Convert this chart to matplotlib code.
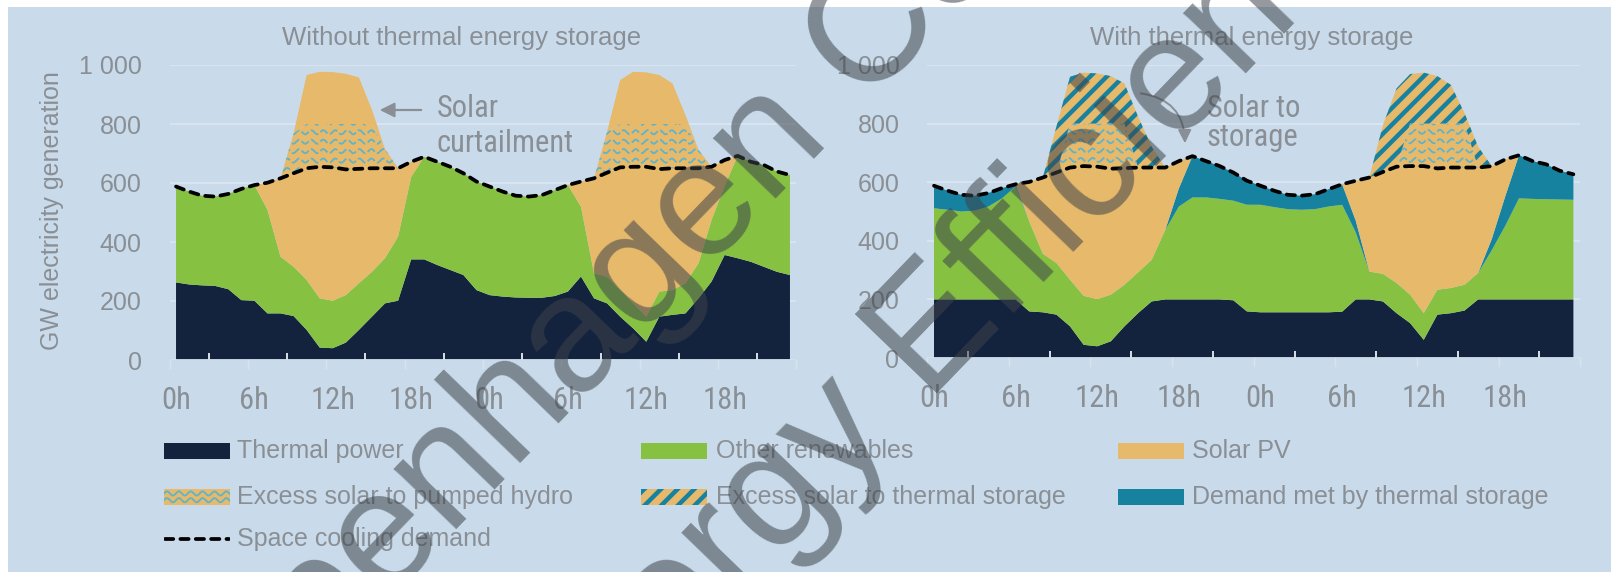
import numpy as np
import matplotlib
matplotlib.use('Agg')
import matplotlib.pyplot as plt
from matplotlib import font_manager
from matplotlib.patches import Rectangle, FancyArrowPatch
from matplotlib.lines import Line2D
import matplotlib.transforms as mtransforms

# ---------------- data ----------------
hours = list(range(48))
hour_tick_pos = [0, 6, 12, 18, 24, 30, 36, 42]
hour_labels = ['0h', '6h', '12h', '18h', '0h', '6h', '12h', '18h']
gw_ticks = [0, 200, 400, 600, 800, 1000]
gw_labels = ['0', '200', '400', '600', '800', '1 000']
panel_titles = ['Without thermal energy storage', 'With thermal energy storage']

space_cooling_demand = [588, 571, 557, 554, 563, 580, 593, 601, 616, 633, 650, 655, 653, 646, 648, 650, 650, 650,
                        672, 689, 672, 655, 633, 605, 588, 571, 557, 554, 559, 576, 593, 605, 616, 635, 653, 655,
                        655, 647, 650, 650, 650, 655, 678, 692, 672, 661, 639, 627]

# Without thermal energy storage
thermal_wo = [263, 256, 253, 251, 240, 203, 201, 158, 158, 149, 102, 42, 40, 59, 102, 147, 192, 201,
              341, 341, 322, 305, 288, 237, 220, 215, 212, 211, 211, 217, 232, 283, 209, 192, 147, 107,
              62, 147, 153, 158, 209, 266, 356, 345, 333, 316, 299, 288]
other_wo = [325, 315, 304, 303, 323, 377, 392, 351, 192, 167, 169, 167, 161, 161, 158, 152, 153, 217,
            279, 348, 350, 350, 345, 368, 368, 356, 345, 343, 348, 359, 361, 237, 85, 90, 90, 85,
            85, 85, 84, 102, 119, 209, 234, 347, 339, 345, 340, 339]
solar_wo = [0, 0, 0, 0, 0, 0, 0, 92, 266, 317, 379, 446, 452, 426, 388, 351, 305, 232,
            52, 0, 0, 0, 0, 0, 0, 0, 0, 0, 0, 0, 0, 85, 322, 353, 416, 463,
            508, 415, 413, 390, 322, 180, 88, 0, 0, 0, 0, 0]
pumped_wo = [0, 0, 0, 0, 0, 0, 0, 0, 0, 135, 150, 145, 147, 154, 152, 150, 65, 0,
             0, 0, 0, 0, 0, 0, 0, 0, 0, 0, 0, 0, 0, 0, 0, 139, 147, 145,
             145, 153, 150, 150, 62, 0, 0, 0, 0, 0, 0, 0]
curtailed_wo = [0, 0, 0, 0, 0, 0, 0, 0, 0, 0, 166, 177, 176, 170, 158, 48, 0, 0,
                0, 0, 0, 0, 0, 0, 0, 0, 0, 0, 0, 0, 0, 0, 0, 0, 149, 177,
                175, 166, 138, 30, 0, 0, 0, 0, 0, 0, 0, 0]

# With thermal energy storage
thermal_w = [200, 200, 200, 200, 200, 200, 200, 159, 156, 148, 108, 45, 40, 57, 108, 153, 193, 200,
             200, 200, 200, 200, 197, 159, 156, 156, 156, 156, 156, 156, 158, 200, 200, 193, 153, 119,
             62, 148, 153, 162, 200, 200, 200, 200, 200, 200, 200, 200]
other_w = [311, 306, 300, 303, 317, 345, 385, 307, 200, 176, 159, 167, 161, 159, 142, 139, 142, 237,
           317, 348, 348, 343, 340, 364, 367, 359, 352, 350, 352, 361, 365, 229, 95, 94, 103, 97,
           91, 85, 86, 88, 90, 168, 252, 345, 343, 342, 341, 340]
storage_out_w = [77, 65, 57, 51, 46, 35, 8, 0, 0, 0, 0, 0, 0, 0, 0, 0, 0, 0,
                 62, 141, 124, 112, 96, 82, 65, 56, 49, 48, 51, 59, 70, 40, 0, 0, 0, 0,
                 0, 0, 0, 0, 0, 38, 101, 147, 129, 119, 98, 87]
solar_w = [0, 0, 0, 0, 0, 0, 0, 135, 260, 309, 383, 443, 452, 430, 398, 358, 315, 213,
           93, 0, 0, 0, 0, 0, 0, 0, 0, 0, 0, 0, 0, 136, 321, 348, 397, 439,
           502, 414, 411, 400, 360, 249, 125, 0, 0, 0, 0, 0]
pumped_w = [0, 0, 0, 0, 0, 0, 0, 0, 0, 0, 150, 145, 147, 154, 152, 0, 0, 0,
            0, 0, 0, 0, 0, 0, 0, 0, 0, 0, 0, 0, 0, 0, 0, 0, 0, 145,
            145, 153, 150, 150, 0, 0, 0, 0, 0, 0, 0, 0]
to_storage_w = [0, 0, 0, 0, 0, 0, 0, 0, 0, 157, 160, 174, 171, 162, 137, 174, 71, 0,
                0, 0, 0, 0, 0, 0, 0, 0, 0, 0, 0, 0, 0, 0, 0, 160, 267, 169,
                174, 162, 132, 35, 71, 0, 0, 0, 0, 0, 0, 0]

legend_labels = ['Thermal power', 'Other renewables', 'Solar PV',
                 'Excess solar to pumped hydro', 'Excess solar to thermal storage',
                 'Demand met by thermal storage', 'Space cooling demand']
watermark_lines = ['Copenhagen Centre on', 'Energy Efficiency']

# ---------------- style ----------------
NAVY = '#13223D'
GREEN = '#86C142'
ORANGE = '#E6B96B'
TEAL = '#17829F'
WAVE = '#5DB4CC'
BG = '#C9DBEA'
GRID = '#DCE7F1'
TXT = '#8A8F95'

names = {f.name for f in font_manager.fontManager.ttflist}
REG = ['Liberation Sans', 'DejaVu Sans']
NARROW, NSIZE = REG, 18.5
for cand in ['Liberation Sans Narrow', 'Arial Narrow', 'Roboto Condensed', 'Open Sans Condensed']:
    if cand in names:
        NARROW, NSIZE = [cand, 'Liberation Sans', 'DejaVu Sans'], 22
        break

plt.rcParams['font.family'] = REG
plt.rcParams['hatch.linewidth'] = 3.2
plt.rcParams['hatch.color'] = TEAL

W, H = 1611, 572
def fx(px):
    return px / W
def fy(py):
    return 1 - py / H

fig = plt.figure(figsize=(W / 100, H / 100), dpi=100)
fig.patch.set_facecolor('white')
fig.add_artist(Rectangle((fx(8), 0), 1, fy(7), transform=fig.transFigure,
                         facecolor=BG, edgecolor='none', zorder=-10))

axL = fig.add_axes([fx(169.5), fy(360), 627 / W, 295 / H])
axR = fig.add_axes([fx(927.2), fy(358), 653 / W, 293 / H])


def add_waves(ax, poly, wavelength):
    xs = np.linspace(-0.5, 47.5, 4000)
    path = poly.get_paths()[0]
    for row in np.arange(548, 830, 32):
        ys = row + 7 * np.sin(2 * np.pi * xs / wavelength)
        ln, = ax.plot(xs, ys, color=WAVE, lw=1.3, zorder=1.2, dashes=(5, 1.5))
        ln.set_clip_path(path, poly.get_transform())


def setup(ax):
    ax.set_xlim(-0.5, 47.5)
    ax.set_ylim(0, 1000)
    ax.patch.set_alpha(0)
    for s in ax.spines.values():
        s.set_visible(False)
    for y in gw_ticks[1:]:
        ax.axhline(y, color=GRID, lw=1.2, zorder=0.5)
    ax.axhline(0, color='#D6E1EB', lw=1.3, zorder=2.5)
    ax.set_xticks(hour_tick_pos)
    ax.set_xticklabels(hour_labels, family=NARROW, fontsize=NSIZE, color=TXT)
    ax.tick_params(axis='x', which='major', length=0, pad=19)
    ax.set_xticks(np.arange(2.5, 48, 6), minor=True)
    ax.tick_params(axis='x', which='minor', direction='in', length=5, width=1.3, color='#E8EEF4')
    trans = mtransforms.blended_transform_factory(ax.transData, ax.transAxes)
    for x in np.arange(-0.5, 48, 6):
        ax.plot([x, x], [0, -0.028], transform=trans, color='#D8E3EC', lw=1, clip_on=False)
    ax.set_yticks(gw_ticks)
    ax.set_yticklabels(gw_labels, fontsize=18, color=TXT)
    ax.tick_params(axis='y', length=0, pad=20)


def stack(ax, layers):
    base = np.zeros(len(hours))
    polys = []
    for vals, color, hatch in layers:
        top = base + np.asarray(vals, dtype=float)
        if hatch:
            p = ax.fill_between(hours, base, top, facecolor=color, edgecolor=TEAL,
                                hatch=hatch, linewidth=0, zorder=1)
        else:
            p = ax.fill_between(hours, base, top, facecolor=color, linewidth=0, zorder=1)
        polys.append(p)
        base = top
    return polys


# Left panel
setup(axL)
pl = stack(axL, [(thermal_wo, NAVY, None), (other_wo, GREEN, None), (solar_wo, ORANGE, None),
                 (pumped_wo, ORANGE, None), (curtailed_wo, ORANGE, None)])
add_waves(axL, pl[3], 0.92)
axL.plot(hours, space_cooling_demand, color='black', lw=2.7, dashes=(2.2, 1.9),
         dash_capstyle='round', zorder=3)

# Right panel
setup(axR)
pr = stack(axR, [(thermal_w, NAVY, None), (other_w, GREEN, None), (storage_out_w, TEAL, None),
                 (solar_w, ORANGE, None), (pumped_w, ORANGE, None), (to_storage_w, ORANGE, '//')])
add_waves(axR, pr[4], 0.88)
axR.plot(hours, space_cooling_demand, color='black', lw=2.7, dashes=(2.2, 1.9),
         dash_capstyle='round', zorder=3)

# Titles & axis label
fig.text(fx(462), fy(38), panel_titles[0], ha='center', va='center', fontsize=18.5, color=TXT)
fig.text(fx(1252), fy(38), panel_titles[1], ha='center', va='center', fontsize=18.5, color=TXT)
fig.text(fx(52), fy(211), 'GW electricity generation', rotation=90, ha='center', va='center',
         fontsize=18, color=TXT)

# Annotations
fig.text(fx(437), fy(117), 'Solar', family=NARROW, fontsize=NSIZE, color=TXT, va='baseline')
fig.text(fx(437), fy(152), 'curtailment', family=NARROW, fontsize=NSIZE, color=TXT, va='baseline')
fig.add_artist(FancyArrowPatch((fx(424), fy(110)), (fx(377), fy(110)), transform=fig.transFigure,
                               arrowstyle='-|>', mutation_scale=22, color=TXT, lw=1.6))
fig.text(fx(1207), fy(117), 'Solar to', family=NARROW, fontsize=NSIZE, color=TXT, va='baseline')
fig.text(fx(1207), fy(146), 'storage', family=NARROW, fontsize=NSIZE, color=TXT, va='baseline')
fig.add_artist(FancyArrowPatch((fx(1138), fy(93)), (fx(1185), fy(146)), transform=fig.transFigure,
                               connectionstyle='arc3,rad=-0.45', arrowstyle='-|>',
                               mutation_scale=20, color=TXT, lw=1.4))

# Legend (manual)
rows_y = [451, 497, 539]
hx = [164, 641, 1118]
tx = [237, 716, 1192]


def handle_ax(col, row):
    a = fig.add_axes([fx(hx[col]), fy(rows_y[row] + 8), 66 / W, 16 / H])
    a.set_xlim(0, 1)
    a.set_ylim(0, 1)
    a.axis('off')
    return a


for (col, row, color) in [(0, 0, NAVY), (1, 0, GREEN), (2, 0, ORANGE), (2, 1, TEAL)]:
    a = handle_ax(col, row)
    a.add_patch(Rectangle((0, 0), 1, 1, facecolor=color, edgecolor='none'))

a = handle_ax(0, 1)
a.add_patch(Rectangle((0, 0), 1, 1, facecolor=ORANGE, edgecolor='none'))
xs = np.linspace(0, 1, 300)
for r in (0.3, 0.72):
    a.plot(xs, r + 0.13 * np.sin(2 * np.pi * xs / 0.18), color=WAVE, lw=1.3)

a = handle_ax(1, 1)
a.add_patch(Rectangle((0, 0), 1, 1, facecolor=ORANGE, edgecolor=TEAL, hatch='//', linewidth=0))

a = handle_ax(0, 2)
a.add_line(Line2D([0.02, 0.98], [0.5, 0.5], color='black', lw=2.7, dashes=(2.2, 1.9),
                  dash_capstyle='round'))

positions = [(0, 0), (1, 0), (2, 0), (0, 1), (1, 1), (2, 1), (0, 2)]
for lab, (col, row) in zip(legend_labels, positions):
    fig.text(fx(tx[col]), fy(rows_y[row]), lab, va='center', fontsize=18, color=TXT)

# Watermark
fig.text(fx(740), fy(173), watermark_lines[0], rotation=46, rotation_mode='anchor',
         ha='center', va='center', fontsize=119, color='#3D434A', alpha=0.55, zorder=20)
fig.text(fx(944), fy(325), watermark_lines[1], rotation=46, rotation_mode='anchor',
         ha='center', va='center', fontsize=119, color='#3D434A', alpha=0.55, zorder=20)

fig.savefig('out.png', dpi=100, facecolor=fig.get_facecolor())
